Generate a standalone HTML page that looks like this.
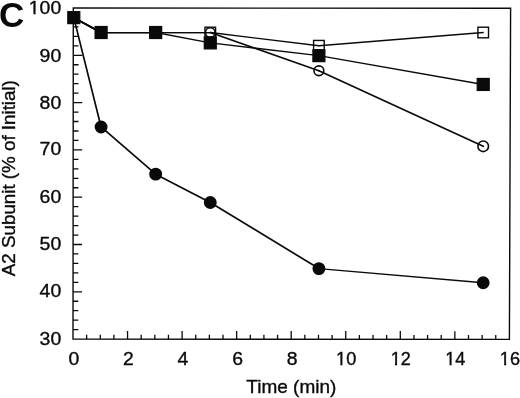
<!DOCTYPE html><html><head><meta charset="utf-8"><style>html,body{margin:0;padding:0;background:#fff}svg{display:block}</style></head><body><svg width="520" height="398" viewBox="0 0 520 398">
<rect width="520" height="398" fill="#fff"/>
<path d="M73.3 8.0L510.6 8.2L509.4 339.4L73.0 339.1Z" fill="none" stroke="#0a0a0a" stroke-width="1.4"/>
<path d="M73.01 329.64h5.3M73.02 320.18h5.3M73.03 310.72h5.3M73.03 301.26h5.3M73.04 291.80h9M73.05 282.34h5.3M73.06 272.88h5.3M73.07 263.42h5.3M73.08 253.96h5.3M73.09 244.50h9M73.09 235.04h5.3M73.10 225.58h5.3M73.11 216.12h5.3M73.12 206.66h5.3M73.13 197.20h9M73.14 187.74h5.3M73.15 178.28h5.3M73.15 168.82h5.3M73.16 159.36h5.3M73.17 149.90h9M73.18 140.44h5.3M73.19 130.98h5.3M73.20 121.52h5.3M73.21 112.06h5.3M73.21 102.60h9M73.22 93.14h5.3M73.23 83.68h5.3M73.24 74.22h5.3M73.25 64.76h5.3M73.26 55.30h9M73.27 45.84h5.3M73.27 36.38h5.3M73.28 26.92h5.3M73.29 17.46h5.3M86.64 339.11v-4.4M100.28 339.12v-4.4M113.91 339.13v-4.4M127.55 339.14v-8.2M141.19 339.15v-4.4M154.82 339.16v-4.4M168.46 339.17v-4.4M182.10 339.18v-8.2M195.74 339.18v-4.4M209.38 339.19v-4.4M223.01 339.20v-4.4M236.65 339.21v-8.2M250.29 339.22v-4.4M263.92 339.23v-4.4M277.56 339.24v-4.4M291.20 339.25v-8.2M304.84 339.26v-4.4M318.48 339.27v-4.4M332.11 339.28v-4.4M345.75 339.29v-8.2M359.39 339.30v-4.4M373.02 339.31v-4.4M386.66 339.32v-4.4M400.30 339.32v-8.2M413.94 339.33v-4.4M427.57 339.34v-4.4M441.21 339.35v-4.4M454.85 339.36v-8.2M468.49 339.37v-4.4M482.12 339.38v-4.4M495.76 339.39v-4.4" stroke="#0a0a0a" stroke-width="1.3" fill="none"/>
<path d="M73.80 17.63L101.09 32.51" stroke="#0a0a0a" stroke-width="1.70" fill="none" stroke-linecap="round"/>
<path d="M101.09 32.51L155.68 32.51" stroke="#0a0a0a" stroke-width="1.25" fill="none" stroke-linecap="round"/>
<path d="M155.68 32.51L210.27 32.51" stroke="#0a0a0a" stroke-width="1.25" fill="none" stroke-linecap="round"/>
<path d="M210.27 32.51L318.90 70.75" stroke="#0a0a0a" stroke-width="1.60" fill="none" stroke-linecap="round"/>
<path d="M318.90 70.75L483.21 146.29" stroke="#0a0a0a" stroke-width="1.69" fill="none" stroke-linecap="round"/>
<path d="M73.80 17.63L101.09 32.51" stroke="#0a0a0a" stroke-width="1.70" fill="none" stroke-linecap="round"/>
<path d="M101.09 32.51L155.68 32.51" stroke="#0a0a0a" stroke-width="1.25" fill="none" stroke-linecap="round"/>
<path d="M155.68 32.51L210.27 32.51" stroke="#0a0a0a" stroke-width="1.25" fill="none" stroke-linecap="round"/>
<path d="M210.27 32.51L318.90 45.73" stroke="#0a0a0a" stroke-width="1.37" fill="none" stroke-linecap="round"/>
<path d="M318.90 45.73L483.21 32.51" stroke="#0a0a0a" stroke-width="1.33" fill="none" stroke-linecap="round"/>
<path d="M73.80 17.63L101.09 32.51" stroke="#0a0a0a" stroke-width="1.70" fill="none" stroke-linecap="round"/>
<path d="M101.09 32.51L155.68 32.51" stroke="#0a0a0a" stroke-width="1.25" fill="none" stroke-linecap="round"/>
<path d="M155.68 32.51L210.27 42.89" stroke="#0a0a0a" stroke-width="1.44" fill="none" stroke-linecap="round"/>
<path d="M210.27 42.89L318.90 55.64" stroke="#0a0a0a" stroke-width="1.37" fill="none" stroke-linecap="round"/>
<path d="M318.90 55.64L483.21 84.44" stroke="#0a0a0a" stroke-width="1.43" fill="none" stroke-linecap="round"/>
<path d="M73.80 17.63L101.09 126.94" stroke="#0a0a0a" stroke-width="1.70" fill="none" stroke-linecap="round"/>
<path d="M101.09 126.94L155.68 174.15" stroke="#0a0a0a" stroke-width="1.70" fill="none" stroke-linecap="round"/>
<path d="M155.68 174.15L210.27 202.48" stroke="#0a0a0a" stroke-width="1.70" fill="none" stroke-linecap="round"/>
<path d="M210.27 202.48L318.90 268.58" stroke="#0a0a0a" stroke-width="1.70" fill="none" stroke-linecap="round"/>
<path d="M318.90 268.58L483.21 282.74" stroke="#0a0a0a" stroke-width="1.34" fill="none" stroke-linecap="round"/>
<rect x="95.79" y="27.21" width="10.6" height="10.6" fill="none" stroke="#0a0a0a" stroke-width="1.4"/>
<rect x="150.38" y="27.21" width="10.6" height="10.6" fill="none" stroke="#0a0a0a" stroke-width="1.4"/>
<rect x="204.97" y="27.21" width="10.6" height="10.6" fill="none" stroke="#0a0a0a" stroke-width="1.4"/>
<rect x="313.60" y="40.43" width="10.6" height="10.6" fill="none" stroke="#0a0a0a" stroke-width="1.4"/>
<rect x="477.91" y="27.21" width="10.6" height="10.6" fill="none" stroke="#0a0a0a" stroke-width="1.4"/>
<circle cx="210.27" cy="32.51" r="4.8" fill="none" stroke="#0a0a0a" stroke-width="1.6"/>
<circle cx="318.90" cy="70.75" r="4.9" fill="none" stroke="#0a0a0a" stroke-width="1.6"/>
<circle cx="483.21" cy="146.29" r="5.3" fill="none" stroke="#0a0a0a" stroke-width="1.6"/>
<rect x="67.80" y="11.63" width="12" height="12" fill="#0a0a0a" stroke="#0a0a0a" stroke-width="1.2"/>
<rect x="95.09" y="26.51" width="12" height="12" fill="#0a0a0a" stroke="#0a0a0a" stroke-width="1.2"/>
<rect x="149.68" y="26.51" width="12" height="12" fill="#0a0a0a" stroke="#0a0a0a" stroke-width="1.2"/>
<rect x="204.27" y="36.89" width="12" height="12" fill="#0a0a0a" stroke="#0a0a0a" stroke-width="1.2"/>
<rect x="312.90" y="49.64" width="12" height="12" fill="#0a0a0a" stroke="#0a0a0a" stroke-width="1.2"/>
<rect x="477.21" y="78.44" width="12" height="12" fill="#0a0a0a" stroke="#0a0a0a" stroke-width="1.2"/>
<circle cx="101.09" cy="126.94" r="5.75" fill="#0a0a0a" stroke="#0a0a0a" stroke-width="1.4"/>
<circle cx="155.68" cy="174.15" r="5.75" fill="#0a0a0a" stroke="#0a0a0a" stroke-width="1.4"/>
<circle cx="210.27" cy="202.48" r="5.75" fill="#0a0a0a" stroke="#0a0a0a" stroke-width="1.4"/>
<circle cx="318.90" cy="268.58" r="5.75" fill="#0a0a0a" stroke="#0a0a0a" stroke-width="1.4"/>
<circle cx="483.21" cy="282.74" r="5.75" fill="#0a0a0a" stroke="#0a0a0a" stroke-width="1.4"/>
<g font-family="Liberation Sans, Arial, sans-serif" fill="#0a0a0a" stroke="#0a0a0a" stroke-width="0.35">
<text transform="translate(61.20 344.80) scale(1.05 1)" font-size="18.5" text-anchor="end" >30</text>
<text transform="translate(61.20 297.29) scale(1.05 1)" font-size="18.5" text-anchor="end" >40</text>
<text transform="translate(61.20 249.97) scale(1.05 1)" font-size="18.5" text-anchor="end" >50</text>
<text transform="translate(61.20 202.76) scale(1.05 1)" font-size="18.5" text-anchor="end" >60</text>
<text transform="translate(61.20 155.44) scale(1.05 1)" font-size="18.5" text-anchor="end" >70</text>
<text transform="translate(61.20 108.83) scale(1.05 1)" font-size="18.5" text-anchor="end" >80</text>
<text transform="translate(61.20 62.11) scale(1.05 1)" font-size="18.5" text-anchor="end" >90</text>
<text transform="translate(61.20 13.90) scale(1.05 1)" font-size="18.5" text-anchor="end" >100</text>
<text transform="translate(73.80 365.00) scale(1.05 1)" font-size="18.5" text-anchor="middle" >0</text>
<text transform="translate(128.39 365.00) scale(1.05 1)" font-size="18.5" text-anchor="middle" >2</text>
<text transform="translate(182.97 365.00) scale(1.05 1)" font-size="18.5" text-anchor="middle" >4</text>
<text transform="translate(237.56 365.00) scale(1.05 1)" font-size="18.5" text-anchor="middle" >6</text>
<text transform="translate(292.15 365.00) scale(1.05 1)" font-size="18.5" text-anchor="middle" >8</text>
<text transform="translate(346.14 365.00) scale(0.98 1)" font-size="18.5" text-anchor="middle" >10</text>
<text transform="translate(400.72 365.00) scale(0.98 1)" font-size="18.5" text-anchor="middle" >12</text>
<text transform="translate(455.31 365.00) scale(0.98 1)" font-size="18.5" text-anchor="middle" >14</text>
<text transform="translate(509.90 365.00) scale(0.98 1)" font-size="18.5" text-anchor="middle" >16</text>
<text transform="translate(291.30 392.60) scale(1.055 1)" font-size="18" text-anchor="middle" >Time (min)</text>
<text transform="translate(14.8 178.15) rotate(-90) scale(1.043 1)" font-size="18" text-anchor="middle">A2 Subunit (% of Initial)</text>
<text transform="translate(-0.90 26.90) scale(1.0 1)" font-size="35" text-anchor="start" font-weight="bold" stroke="none">C</text>
</g>
<rect x="29" y="12" width="4.42" height="3" fill="#fff"/><rect x="35.64" y="12" width="4.36" height="3" fill="#fff"/>
<rect x="336" y="363" width="4.36" height="3" fill="#fff"/><rect x="342.47" y="363" width="3.53" height="3" fill="#fff"/>
<rect x="391" y="363" width="3.95" height="3" fill="#fff"/><rect x="397.05" y="363" width="3.95" height="3" fill="#fff"/>
<rect x="445" y="363" width="4.54" height="3" fill="#fff"/><rect x="451.64" y="363" width="4.36" height="3" fill="#fff"/>
<rect x="500" y="363" width="4.13" height="3" fill="#fff"/><rect x="506.23" y="363" width="3.77" height="3" fill="#fff"/>
</svg></body></html>
